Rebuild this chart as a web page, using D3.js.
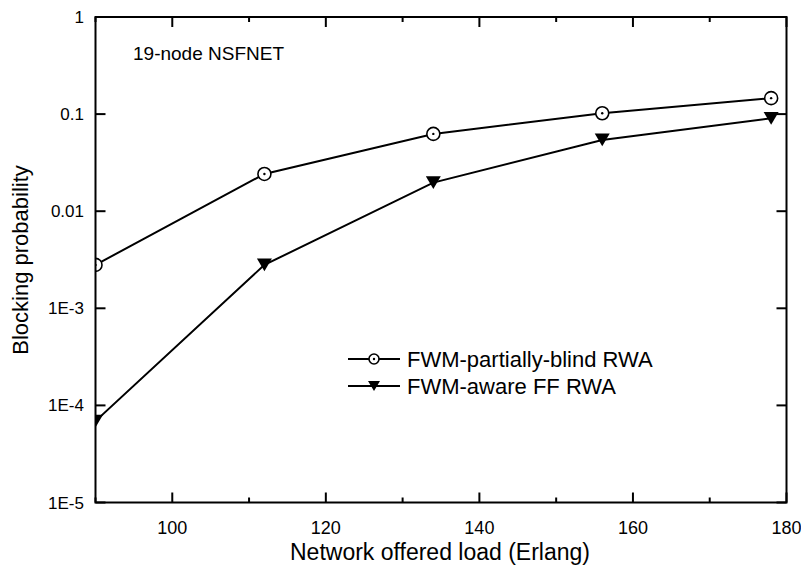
<!DOCTYPE html>
<html>
<head>
<meta charset="utf-8">
<script src="https://cdn.jsdelivr.net/npm/d3@7"></script>
<style>
  body { margin: 0; background: #fff; }
  text { font-family: "Liberation Sans", Arial, sans-serif; fill: #000; }
</style>
</head>
<body>
<div id="main"></div>
<script>
var load = [90, 112, 134, 156, 178]
var blindRwa = [0.0028, 0.0242, 0.0625, 0.102, 0.146]
var awareRwa = [0.000069, 0.0028, 0.0197, 0.0542, 0.0906]
var yTicks = [1e-5, 1e-4, 1e-3, 0.01, 0.1, 1]
var yLabels = ['1E-5', '1E-4', '1E-3', '0.01', '0.1', '1']
var xTicks = [100, 120, 140, 160, 180]
var xMinor = [90, 110, 130, 150, 170]

var margin = { left: 95.5, top: 17, right: 786.5, bottom: 502.5 }

var svg = d3.select('#main')
  .append('svg')
  .attr('width', 801)
  .attr('height', 570)

var x = d3.scaleLinear().domain([90, 180]).range([margin.left, margin.right])
var y = d3.scaleLog().domain([1e-5, 1]).range([margin.bottom, margin.top])

// markers are cut at the frame, like the original
svg.append('clipPath')
  .attr('id', 'plot-clip')
  .append('rect')
  .attr('x', margin.left)
  .attr('y', margin.top)
  .attr('width', margin.right - margin.left)
  .attr('height', margin.bottom - margin.top)

// series
var line = d3.line().x(d => x(d[0])).y(d => y(d[1]))
var blindPts = load.map((v, i) => [v, blindRwa[i]])
var awarePts = load.map((v, i) => [v, awareRwa[i]])

var plot = svg.append('g').attr('clip-path', 'url(#plot-clip)')

plot.append('path').attr('d', line(blindPts)).attr('fill', 'none').attr('stroke', '#000').attr('stroke-width', 2)
plot.append('path').attr('d', line(awarePts)).attr('fill', 'none').attr('stroke', '#000').attr('stroke-width', 2)

function circleMark (g, cx, cy, r) {
  g.append('circle').attr('cx', cx).attr('cy', cy).attr('r', r)
    .attr('fill', '#fff').attr('stroke', '#000').attr('stroke-width', 1.6)
  g.append('circle').attr('cx', cx).attr('cy', cy).attr('r', 1.2).attr('fill', '#000')
}
function triMark (g, cx, cy, w) {
  var h = w * 0.85
  g.append('path')
    .attr('d', `M${cx - w / 2},${cy - h / 2}L${cx + w / 2},${cy - h / 2}L${cx},${cy + h / 2}Z`)
    .attr('fill', '#000')
}

blindPts.forEach(p => circleMark(plot, x(p[0]), y(p[1]), 6.5))
awarePts.forEach(p => triMark(plot, x(p[0]), y(p[1]), 15))

// frame
svg.append('rect')
  .attr('x', margin.left)
  .attr('y', margin.top)
  .attr('width', margin.right - margin.left)
  .attr('height', margin.bottom - margin.top)
  .attr('fill', 'none')
  .attr('stroke', '#000')
  .attr('stroke-width', 2)

// x ticks, bottom and top, pointing inward
var xAll = xTicks.map(v => ({ v: v, len: 10 })).concat(xMinor.map(v => ({ v: v, len: 5 })))
svg.selectAll('.xt')
  .data(xAll)
  .enter()
  .append('line')
  .attr('x1', d => x(d.v)).attr('x2', d => x(d.v))
  .attr('y1', margin.bottom).attr('y2', d => margin.bottom - d.len)
  .attr('stroke', '#000').attr('stroke-width', 2)
svg.selectAll('.xtt')
  .data(xAll)
  .enter()
  .append('line')
  .attr('x1', d => x(d.v)).attr('x2', d => x(d.v))
  .attr('y1', margin.top).attr('y2', d => margin.top + d.len)
  .attr('stroke', '#000').attr('stroke-width', 2)

svg.selectAll('.xl')
  .data(xTicks)
  .enter()
  .append('text')
  .attr('x', d => x(d))
  .attr('y', 534)
  .attr('text-anchor', 'middle')
  .attr('font-size', 18)
  .text(d => d)

// y ticks, left and right
svg.selectAll('.yt')
  .data(yTicks)
  .enter()
  .append('line')
  .attr('x1', margin.left).attr('x2', margin.left + 10)
  .attr('y1', d => y(d)).attr('y2', d => y(d))
  .attr('stroke', '#000').attr('stroke-width', 2)
svg.selectAll('.ytr')
  .data(yTicks)
  .enter()
  .append('line')
  .attr('x1', margin.right).attr('x2', margin.right - 10)
  .attr('y1', d => y(d)).attr('y2', d => y(d))
  .attr('stroke', '#000').attr('stroke-width', 2)

svg.selectAll('.yl')
  .data(yTicks)
  .enter()
  .append('text')
  .attr('x', 84)
  .attr('y', d => y(d) + 6)
  .attr('text-anchor', 'end')
  .attr('font-size', 17)
  .text((d, i) => yLabels[i])

// axis titles
svg.append('text')
  .attr('x', 440)
  .attr('y', 560)
  .attr('text-anchor', 'middle')
  .attr('font-size', 23)
  .text('Network offered load (Erlang)')

svg.append('text')
  .attr('transform', 'translate(28, 260) rotate(-90)')
  .attr('text-anchor', 'middle')
  .attr('font-size', 22)
  .text('Blocking probability')

svg.append('text')
  .attr('x', 133)
  .attr('y', 60)
  .attr('font-size', 19)
  .text('19-node NSFNET')

// legend
var legend = svg.append('g')
var ly1 = 359, ly2 = 386
legend.append('line').attr('x1', 348).attr('x2', 400).attr('y1', ly1).attr('y2', ly1).attr('stroke', '#000').attr('stroke-width', 2)
circleMark(legend, 374, ly1, 5)
legend.append('text').attr('x', 407).attr('y', ly1 + 8).attr('font-size', 22).text('FWM-partially-blind RWA')
legend.append('line').attr('x1', 348).attr('x2', 400).attr('y1', ly2).attr('y2', ly2).attr('stroke', '#000').attr('stroke-width', 2)
triMark(legend, 374, ly2, 12)
legend.append('text').attr('x', 407).attr('y', ly2 + 8).attr('font-size', 22).text('FWM-aware FF RWA')
</script>
</body>
</html>
